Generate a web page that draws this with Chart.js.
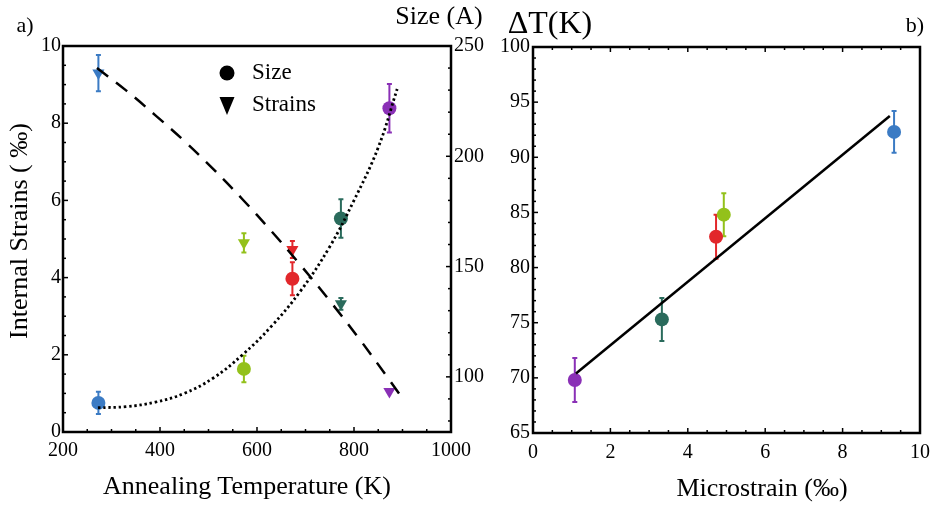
<!DOCTYPE html>
<html>
<head>
<meta charset="utf-8">
<script src="https://cdn.jsdelivr.net/npm/chart.js@4.4.1/dist/chart.umd.min.js"></script>
<style>
  body { margin: 0; background: #fff; }
  #wrap { position: relative; width: 936px; height: 506px; overflow: hidden; font-family: "Liberation Serif", serif; color: #000; }
  canvas { position: absolute; top: 0; }
  #chartA { left: 0; }
  #chartB { left: 480px; }
  .lbl { position: absolute; white-space: nowrap; line-height: 1; transform: translate(-50%, -50%); }
</style>
</head>
<body>
<div id="wrap">
  <canvas id="chartA" width="500" height="506"></canvas>
  <canvas id="chartB" width="456" height="506"></canvas>
  <div class="lbl" style="left:25px; top:25px; font-size:22px;">a)</div>
  <div class="lbl" style="left:915px; top:25px; font-size:22px;">b)</div>
  <div class="lbl" style="left:439px; top:16px; font-size:26px;">Size (A)</div>
  <div class="lbl" style="left:550px; top:22px; font-size:32px;">ΔT(K)</div>
  <div class="lbl" style="left:247px; top:486px; font-size:26px;">Annealing Temperature (K)</div>
  <div class="lbl" style="left:762px; top:488px; font-size:26px;">Microstrain (‰)</div>
  <div class="lbl" style="left:19px; top:231px; font-size:26px; transform: translate(-50%, -50%) rotate(-90deg);">Internal Strains ( ‰)</div>
</div>
<script>
// panel a) - annealing series
const tempK = [273, 573, 673, 773, 873];
const strainVals = [9.3, 4.9, 4.73, 3.32, 1.05];
const strainErr = [0.47, 0.25, 0.22, 0.15, 0.04];
const sizeVals = [88.2, 103.6, 144.5, 171.8, 221.8];
const sizeErr = [5, 6, 7.5, 8.7, 11];
const pointColors = ['#3b7bc4', '#93c11b', '#e2272b', '#2a6b5c', '#8a30b6'];

// fitted curves
const strainFitT = [270, 330, 390, 450, 510, 570, 630, 690, 750, 810, 870, 895];
const strainFit = [9.43, 8.85, 8.21, 7.54, 6.81, 6.03, 5.2, 4.32, 3.4, 2.43, 1.4, 0.96];
const sizeFitT = [272, 330, 390, 450, 510, 570, 630, 690, 750, 800, 850, 889];
const sizeFit = [86, 86.5, 88.5, 92.5, 99.5, 110, 123, 139, 159, 180, 204, 230.5];

// panel b) - deltaT vs microstrain (purple, teal, red, green, blue)
const microstrain = [1.08, 3.33, 4.73, 4.93, 9.33];
const deltaT = [69.8, 75.3, 82.8, 84.8, 92.3];
const deltaTErr = [2, 1.95, 2, 1.95, 1.9];
const dtColors = ['#8a30b6', '#2a6b5c', '#e2272b', '#93c11b', '#3b7bc4'];
const dtFitX = [1.11, 9.22];
const dtFitY = [70.4, 93.75];

// tick labels
const tempTicks = [200, 400, 600, 800, 1000];
const strainTicks = [0, 2, 4, 6, 8, 10];
const sizeTicks = [100, 150, 200, 250];
const microTicks = [0, 2, 4, 6, 8, 10];
const dtTicks = [65, 70, 75, 80, 85, 90, 95, 100];

const FONT = "'Liberation Serif', serif";
const tickFont = { family: FONT, size: 20 };

function pts(xs, ys) {
    return xs.map((x, i) => ({ x: x, y: ys[i] }));
}

// inward frame ticks + frame box
const frameTicks = {
    id: 'frameTicks',
    afterDraw(chart, args, opts) {
        const ctx = chart.ctx;
        const a = chart.chartArea;
        ctx.save();
        ctx.strokeStyle = '#000';
        ctx.lineWidth = 1.5;
        opts.specs.forEach(s => {
            const sc = chart.scales[s.id];
            let v = Math.ceil(sc.min / s.minor - 1e-9) * s.minor;
            for (; v <= sc.max + 1e-9; v += s.minor) {
                const major = Math.abs(v / s.major - Math.round(v / s.major)) < 1e-6;
                const len = major ? 5 : 3;
                const p = sc.getPixelForValue(v);
                ctx.beginPath();
                if (s.side === 'bottom') { ctx.moveTo(p, a.bottom); ctx.lineTo(p, a.bottom - len); }
                if (s.side === 'top') { ctx.moveTo(p, a.top); ctx.lineTo(p, a.top + len); }
                if (s.side === 'left') { ctx.moveTo(a.left, p); ctx.lineTo(a.left + len, p); }
                if (s.side === 'right') { ctx.moveTo(a.right, p); ctx.lineTo(a.right - len, p); }
                ctx.stroke();
            }
        });
        ctx.lineWidth = 2.5;
        ctx.strokeRect(a.left, a.top, a.right - a.left, a.bottom - a.top);
        ctx.restore();
    }
};

// vertical error bars, drawn under the markers
const errorBars = {
    id: 'errorBars',
    beforeDatasetsDraw(chart) {
        const ctx = chart.ctx;
        ctx.save();
        ctx.lineWidth = 2;
        chart.data.datasets.forEach((ds, di) => {
            if (!ds.err) return;
            const meta = chart.getDatasetMeta(di);
            const ys = chart.scales[meta.yAxisID];
            meta.data.forEach((el, i) => {
                const v = ds.data[i].y;
                const top = ys.getPixelForValue(v + ds.err[i]);
                const bot = ys.getPixelForValue(v - ds.err[i]);
                const col = ds.pointBackgroundColor[i];
                ctx.strokeStyle = col;
                ctx.beginPath();
                ctx.moveTo(el.x, top); ctx.lineTo(el.x, bot);
                ctx.moveTo(el.x - 2.5, top); ctx.lineTo(el.x + 2.5, top);
                ctx.moveTo(el.x - 2.5, bot); ctx.lineTo(el.x + 2.5, bot);
                ctx.stroke();
            });
        });
        ctx.restore();
    }
};

// small legend inside panel a)
const markerLegend = {
    id: 'markerLegend',
    afterDraw(chart) {
        const ctx = chart.ctx;
        ctx.save();
        ctx.fillStyle = '#000';
        ctx.beginPath();
        ctx.arc(227, 73, 7.5, 0, Math.PI * 2);
        ctx.fill();
        ctx.beginPath();
        ctx.moveTo(219.5, 97); ctx.lineTo(234.5, 97); ctx.lineTo(227, 115);
        ctx.closePath();
        ctx.fill();
        ctx.font = "23px " + FONT;
        ctx.textBaseline = 'middle';
        ctx.fillText('Size', 252, 73);
        ctx.fillText('Strains', 252, 105);
        ctx.restore();
    }
};

function axisBase(min, max, tickList, pad) {
    return {
        type: 'linear', min: min, max: max,
        grid: { display: false, drawTicks: false },
        border: { display: false },
        afterBuildTicks: s => { s.ticks = tickList.map(v => ({ value: v })); },
        ticks: { color: '#000', font: tickFont, padding: pad, callback: v => String(v) }
    };
}

// ---- panel a)
const xA = axisBase(200, 1000, tempTicks, 7);
xA.afterFit = s => { s.height = 74; s.paddingLeft = 0; s.paddingRight = 0; };
const yA = axisBase(0, 10, strainTicks, 2);
yA.position = 'left';
yA.afterFit = s => { s.width = 63; s.paddingTop = 0; s.paddingBottom = 0; };
const y2A = axisBase(75, 250, sizeTicks, 3);
y2A.position = 'right';
y2A.afterFit = s => { s.width = 49; s.paddingTop = 0; s.paddingBottom = 0; };

new Chart(document.getElementById('chartA'), {
    type: 'scatter',
    data: {
        datasets: [
            {
                label: 'Strains fit', data: pts(strainFitT, strainFit), yAxisID: 'y',
                showLine: true, borderColor: '#000', borderWidth: 2.5, borderDash: [14, 10],
                pointRadius: 0, tension: 0.4
            },
            {
                label: 'Size fit', data: pts(sizeFitT, sizeFit), yAxisID: 'y2',
                showLine: true, borderColor: '#000', borderWidth: 2.8, borderDash: [2.4, 2.8],
                pointRadius: 0, tension: 0.4
            },
            {
                label: 'Strains', data: pts(tempK, strainVals), yAxisID: 'y', err: strainErr,
                pointStyle: 'triangle', pointRotation: 180, pointRadius: 7, borderWidth: 0,
                pointBackgroundColor: pointColors, pointBorderColor: pointColors
            },
            {
                label: 'Size', data: pts(tempK, sizeVals), yAxisID: 'y2', err: sizeErr,
                pointStyle: 'circle', pointRadius: 7, borderWidth: 0,
                pointBackgroundColor: pointColors, pointBorderColor: pointColors
            }
        ]
    },
    options: {
        responsive: false,
        animation: false,
        layout: { padding: { top: 46, left: 0, right: 0, bottom: 0 } },
        plugins: {
            legend: { display: false },
            tooltip: { enabled: false },
            frameTicks: {
                specs: [
                    { id: 'x', side: 'bottom', major: 200, minor: 50 },
                    { id: 'y', side: 'left', major: 2, minor: 0.5 },
                    { id: 'y2', side: 'right', major: 50, minor: 10 }
                ]
            }
        },
        scales: { x: xA, y: yA, y2: y2A }
    },
    plugins: [frameTicks, errorBars, markerLegend]
});

// ---- panel b)
const xB = axisBase(0, 10, microTicks, 8);
xB.afterFit = s => { s.height = 73; s.paddingLeft = 0; s.paddingRight = 0; };
const yB = axisBase(65, 100, dtTicks, 3);
yB.position = 'left';
yB.afterFit = s => { s.width = 53; s.paddingTop = 0; s.paddingBottom = 0; };

new Chart(document.getElementById('chartB'), {
    type: 'scatter',
    data: {
        datasets: [
            {
                label: 'fit', data: pts(dtFitX, dtFitY),
                showLine: true, borderColor: '#000', borderWidth: 2.5, pointRadius: 0
            },
            {
                label: 'deltaT', data: pts(microstrain, deltaT), err: deltaTErr,
                pointStyle: 'circle', pointRadius: 7, borderWidth: 0,
                pointBackgroundColor: dtColors, pointBorderColor: dtColors
            }
        ]
    },
    options: {
        responsive: false,
        animation: false,
        layout: { padding: { top: 47, left: 0, right: 16, bottom: 0 } },
        plugins: {
            legend: { display: false },
            tooltip: { enabled: false },
            frameTicks: {
                specs: [
                    { id: 'x', side: 'bottom', major: 2, minor: 0.5 },
                    { id: 'x', side: 'top', major: 2, minor: 0.5 },
                    { id: 'y', side: 'left', major: 5, minor: 1 }
                ]
            }
        },
        scales: { x: xB, y: yB }
    },
    plugins: [frameTicks, errorBars]
});
</script>
</body>
</html>
